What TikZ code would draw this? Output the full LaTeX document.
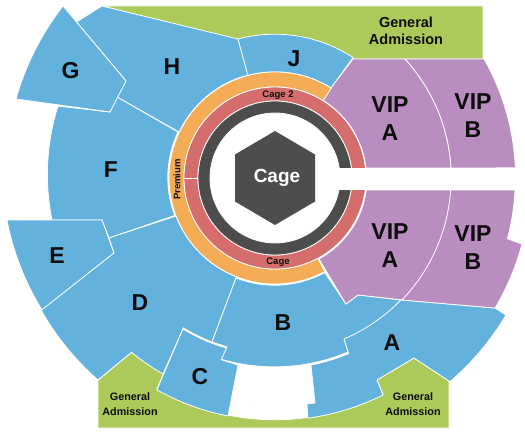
\documentclass[tikz,border=0pt]{standalone}
\usepackage{fontspec}
\setmainfont{Liberation Sans}
\definecolor{seatblue}{HTML}{63B2DD}
\definecolor{gagreen}{HTML}{ABCA5A}
\definecolor{vippurple}{HTML}{B98DBF}
\definecolor{premorange}{HTML}{F4AC57}
\definecolor{cagered}{HTML}{D66D6D}
\definecolor{cagedark}{HTML}{4D4D4D}
\definecolor{labelink}{HTML}{0D0D0D}
\tikzset{
  sect/.style={draw=white,line width=0.8pt,line join=miter,fill=#1},
  big/.style={inner sep=0,text=labelink,font=\fontsize{23}{28}\selectfont\bfseries,align=center},
  gatop/.style={inner sep=0,text=labelink,font=\fontsize{14.5}{17}\selectfont\bfseries,align=center},
  gasmall/.style={inner sep=0,text=labelink,font=\fontsize{10.8}{15}\selectfont\bfseries,align=center},
  tiny/.style={inner sep=0,text=labelink,font=\fontsize{9.5}{10}\selectfont\bfseries},
}
\begin{document}
\begin{tikzpicture}[x=1pt,y=1pt,yscale=-1]
\useasboundingbox (0,0) rectangle (525,433);
% green zones
\path[sect=gagreen] (102,6) -- (483,6) -- (483,59) -- (353,59) arc[start angle=303.2,end angle=255.1,radius=143] -- cycle;
\path[sect=gagreen] (98,380) -- (132,352) arc[start angle=129.4,end angle=119.7,radius=226] -- (157,389) arc[start angle=119.2,end angle=63.5,radius=242] -- (377,380) -- (414,358) -- (449,381) -- (449,428) -- (98,428) -- cycle;
% blue sections
\path[sect=seatblue] (76.5,22) -- (102,6) -- (238,39) -- (248,75) arc[start angle=255.3,end angle=205.4,radius=106] -- (117,97) -- (126,81) -- cycle;
\path[sect=seatblue] (238,39) arc[start angle=255.1,end angle=303.2,radius=143] -- (331,88) arc[start angle=302,end angle=255.3,radius=106] -- cycle;
\path[sect=seatblue] (52,220) arc[start angle=168.45,end angle=197.55,radius=227] -- (110,112) -- (117,97) -- (178,132) arc[start angle=205.4,end angle=159,radius=106] -- (109,238) -- (102,220) -- cycle;
\path[sect=seatblue] (16,99) arc[start angle=195.75,end angle=217.85,radius=272] -- (126,81) -- (110,112) -- cycle;
\path[sect=seatblue] (7,220) -- (102,220) -- (114,253) -- (42,310) arc[start angle=148.45,end angle=168.95,radius=271] -- cycle;
\path[sect=seatblue] (236,278) -- (212,342) arc[start angle=111,end angle=121.4,radius=176] -- (163,374) arc[start angle=119.7,end angle=129.4,radius=226] -- (98,380) arc[start angle=131.2,end angle=150.5,radius=268] -- (114,253) -- (109,238) -- (176,216) arc[start angle=159,end angle=111.3,radius=106] -- cycle;
\path[sect=seatblue] (183,329) arc[start angle=121.4,end angle=105.9,radius=176] -- (222,360) -- (238,365) -- (228,416) arc[start angle=101.2,end angle=119.2,radius=242] -- cycle;
\path[sect=seatblue] (325,273) -- (346,304) -- (358,295) -- (402,300) arc[start angle=43.85,end angle=66.8,radius=176] -- (348,352) arc[start angle=67.2,end angle=106.2,radius=190] -- (227,347) -- (212,342) -- (236,278) arc[start angle=111.3,end angle=62,radius=106] -- cycle;
\path[sect=seatblue] (402,300) -- (495,308) -- (506,315) arc[start angle=30.7,end angle=49.4,radius=268] -- (414,358) -- (377,380) -- (383,395) arc[start angle=63.5,end angle=82.2,radius=242] -- (307,404) -- (315,403) -- (311,365) arc[start angle=79.1,end angle=67.2,radius=190] -- (344,339) arc[start angle=66.8,end angle=43.85,radius=176] -- cycle;
% purple sections
\path[sect=vippurple] (323,100) -- (331,88) -- (353,59) -- (405,59) arc[start angle=-42.5,end angle=-3.25,radius=176] -- (366,168) arc[start angle=-6.3,end angle=-58,radius=91] -- cycle;
\path[sect=vippurple] (405,59) -- (484,59) arc[start angle=-29.7,end angle=-2.4,radius=240] -- (451,168) arc[start angle=-3.25,end angle=-42.5,radius=176] -- cycle;
\path[sect=vippurple] (366,190) -- (451,190) arc[start angle=3.9,end angle=43.85,radius=176] -- (358,295) -- (346,304) -- (319,259) arc[start angle=61.5,end angle=7.6,radius=92] -- cycle;
\path[sect=vippurple] (451,190) -- (515,190) arc[start angle=2.9,end angle=14.7,radius=240] -- (522,244) arc[start angle=15,end angle=30.6,radius=256] -- (402,300) arc[start angle=43.85,end angle=3.9,radius=176] -- cycle;
% centre rings
\path[sect=premorange] (331.2,88.1) arc[start angle=-58,end angle=-298,radius=106] -- (317.7,258.3) arc[start angle=-298,end angle=-58,radius=91] -- cycle;
\path[sect=cagered,even odd rule] (275,178) circle[radius=91] (275,178) circle[radius=77];
\path[sect=cagedark,even odd rule] (275,178) circle[radius=77] (275,178) circle[radius=65];
\draw[white,line width=0.8pt] (184,178) -- (198,178);
\fill[white] (335,168) rectangle (525,190);
\fill[cagedark] (275,131) -- (315,154.5) -- (315,201.5) -- (275,225) -- (235,201.5) -- (235,154.5) -- cycle;
% labels
\node[inner sep=0,text=white,font=\fontsize{19}{19}\selectfont\bfseries] (cagemain) at (277,178) {Cage};
\node[big] (g) at (70.5,70.5) {G};
\node[big] (h) at (172,67) {H};
\node[big] (j) at (294,59) {J};
\node[big] (f) at (111,170) {F};
\node[big] (e) at (57,256) {E};
\node[big] (d) at (140,303) {D};
\node[big] (c) at (200,377) {C};
\node[big] (b) at (283,323) {B};
\node[big] (a) at (392,343) {A};
\node[big] (vipa1) at (390,119) {VIP\\A};
\node[big] (vipb1) at (473,116) {VIP\\B};
\node[big] (vipa2) at (390,246) {VIP\\A};
\node[big] (vipb2) at (473,248) {VIP\\B};
\node[gatop] (ga1) at (406,30.5) {General\\Admission};
\node[gasmall] (ga2) at (130,404.5) {General\\Admission};
\node[gasmall] (ga3) at (413,404.5) {General\\Admission};
\node[tiny] (cage2) at (278,95) {Cage 2};
\node[tiny] (cage1) at (278,262) {Cage};
\node[tiny,rotate=90] (prem) at (177,179.5) {Premium};
\end{tikzpicture}
\end{document}
